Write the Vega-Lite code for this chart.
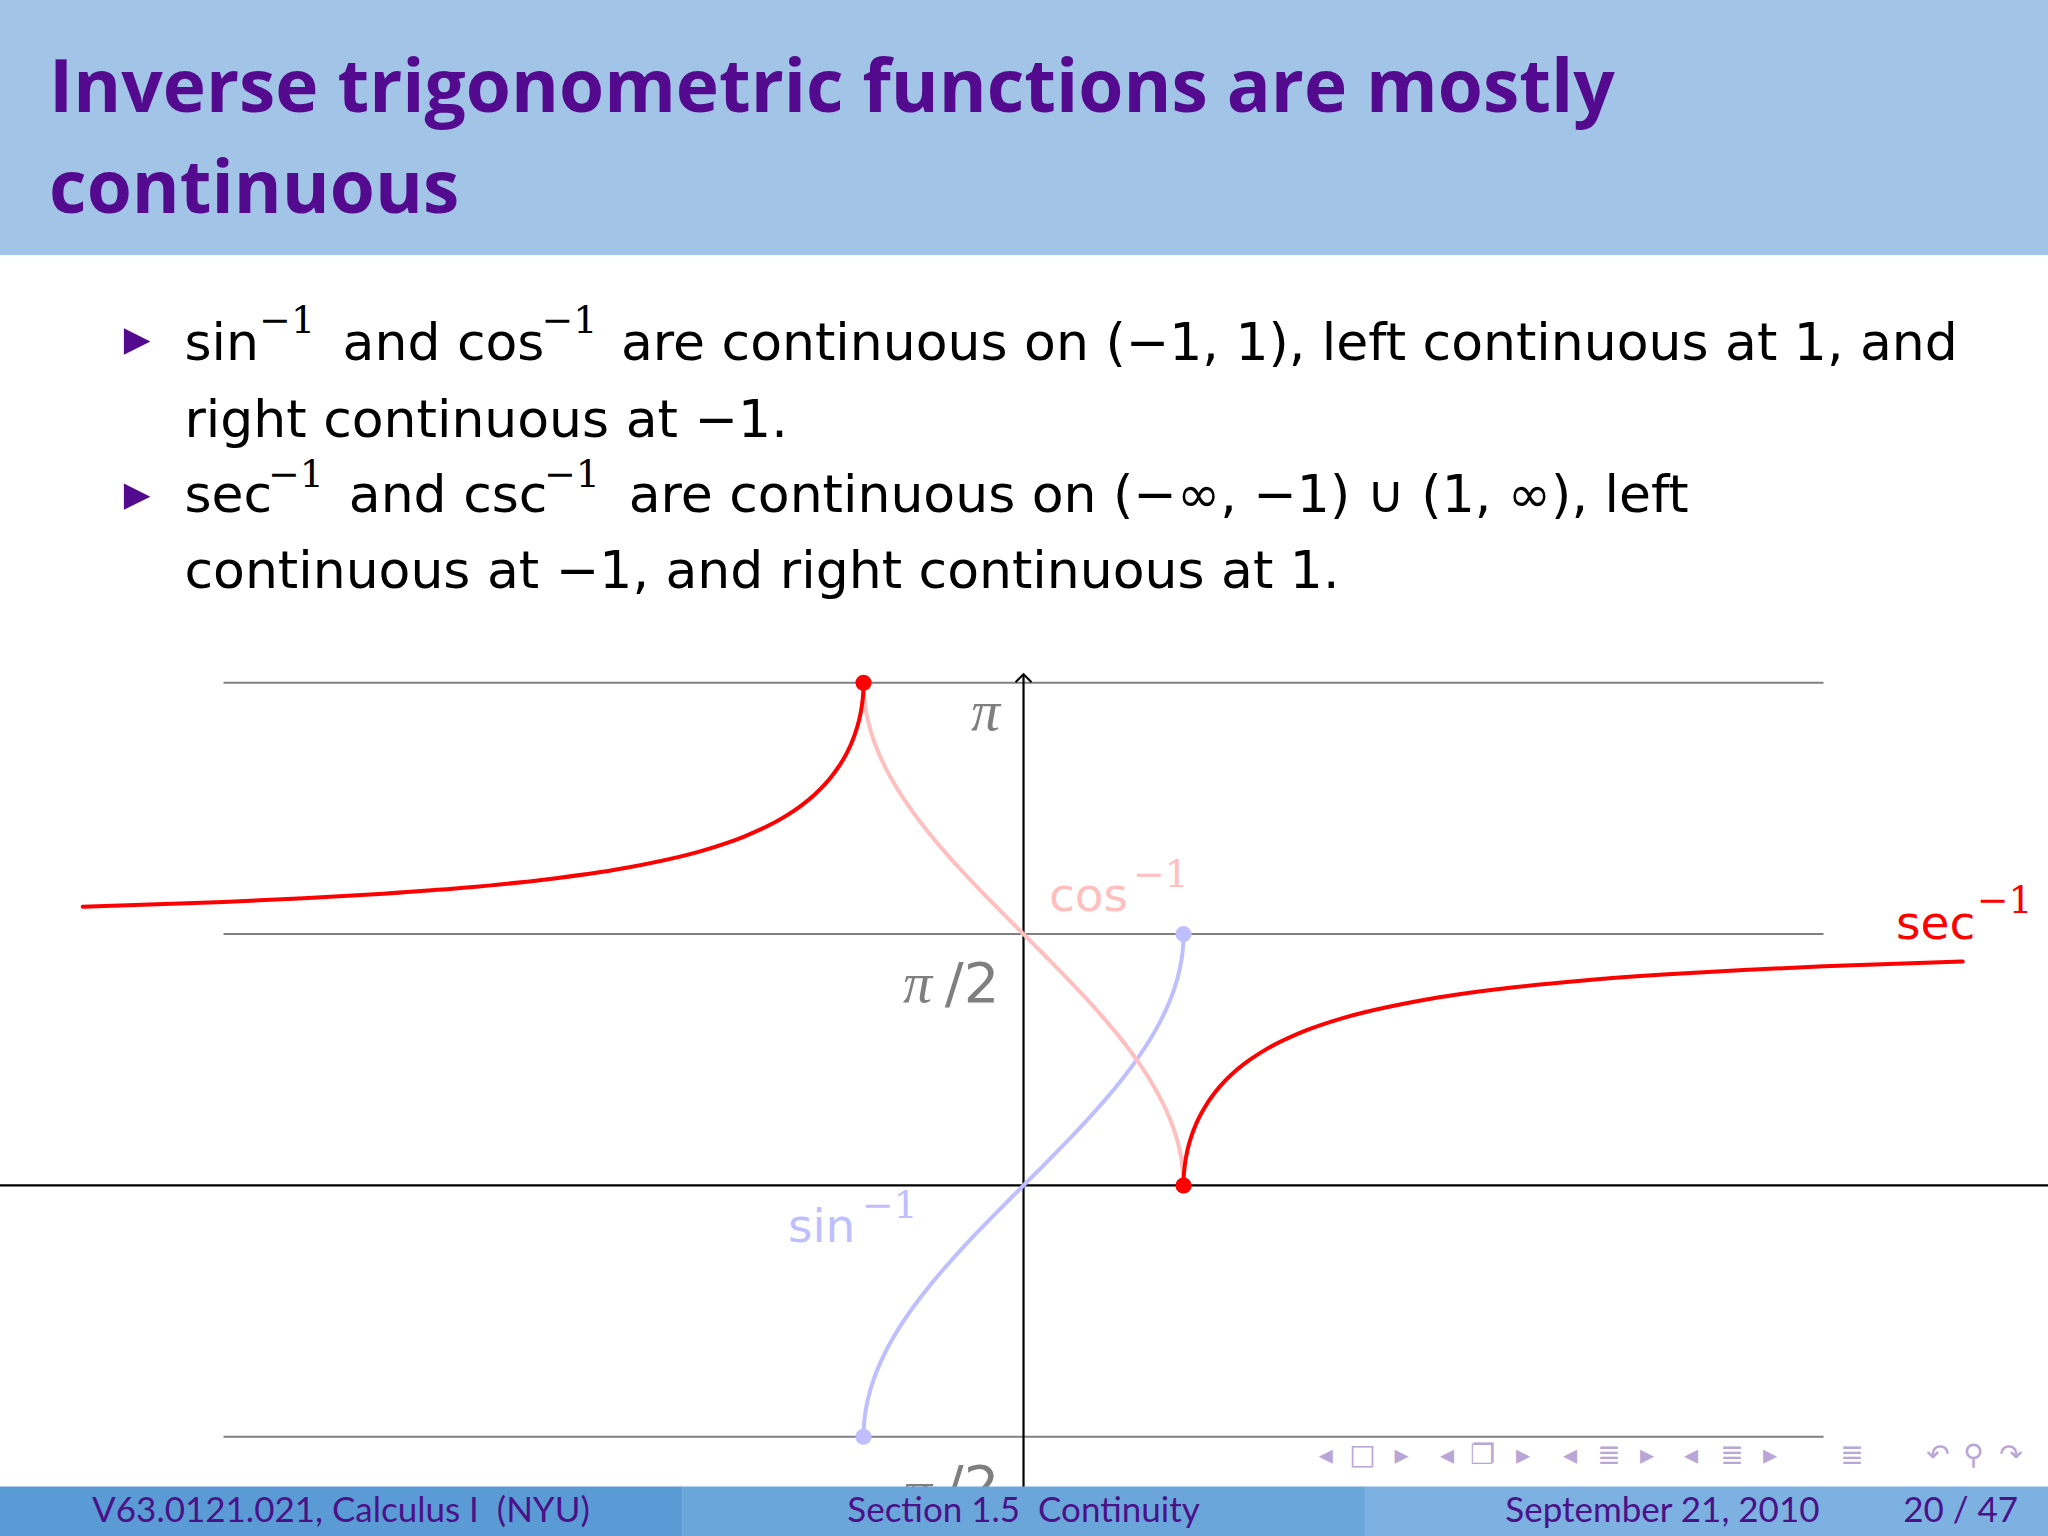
{
  "$schema": "https://vega.github.io/schema/vega-lite/v6.json",
  "width": 2048,
  "height": 1536,
  "autosize": {"type": "none"},
  "padding": 0,
  "background": "white",
  "config": {"view": {"stroke": null}},
  "datasets": {
    "header": [{"x": -6.397, "x2": 6.403, "y": 7.409, "y2": 5.816}],
    "title": [
      {"x": -6.09, "y": 6.709, "text": "Inverse trigonometric functions are mostly"},
      {"x": -6.09, "y": 6.078, "text": "continuous"}
    ],
    "bullets": [{"x": -5.54, "y": 5.274}, {"x": -5.54, "y": 4.305}],
    "body": [
      {"x": -5.244, "y": 5.159, "text": "sin"},
      {"x": -4.256, "y": 5.159, "text": "and cos"},
      {"x": -2.516, "y": 5.159, "text": "are continuous on (−1, 1), left continuous at 1, and"},
      {"x": -5.244, "y": 4.68, "text": "right continuous at −1."},
      {"x": -5.244, "y": 4.208, "text": "sec"},
      {"x": -4.217, "y": 4.208, "text": "and csc"},
      {"x": -2.468, "y": 4.208, "text": "are continuous on (−∞, −1) ∪ (1, ∞), left"},
      {"x": -5.244, "y": 3.733, "text": "continuous at −1, and right continuous at 1."}
    ],
    "bodysup": [
      {"x": -4.778, "y": 5.328, "text": "−1"},
      {"x": -3.013, "y": 5.328, "text": "−1"},
      {"x": -4.722, "y": 4.368, "text": "−1"},
      {"x": -2.997, "y": 4.368, "text": "−1"}
    ],
    "grid": [
      {"x": -5, "x2": 5, "y": 3.1416},
      {"x": -5, "x2": 5, "y": 1.5708},
      {"x": -5, "x2": 5, "y": -1.5708}
    ],
    "xaxis": [{"x": -6.397, "x2": 6.403, "y": 0}],
    "yaxis": [{"x": 0, "y": -2.191, "y2": 3.195}],
    "arrow": [{"x": 0, "y": 3.17}],
    "curves": [
      {"fn": "arcsin", "branch": "s", "x": -1, "y": -1.5708},
      {"fn": "arcsin", "branch": "s", "x": -0.998, "y": -1.5075},
      {"fn": "arcsin", "branch": "s", "x": -0.995, "y": -1.4708},
      {"fn": "arcsin", "branch": "s", "x": -0.99, "y": -1.4293},
      {"fn": "arcsin", "branch": "s", "x": -0.98, "y": -1.3705},
      {"fn": "arcsin", "branch": "s", "x": -0.96, "y": -1.287},
      {"fn": "arcsin", "branch": "s", "x": -0.94, "y": -1.2226},
      {"fn": "arcsin", "branch": "s", "x": -0.9, "y": -1.1198},
      {"fn": "arcsin", "branch": "s", "x": -0.85, "y": -1.016},
      {"fn": "arcsin", "branch": "s", "x": -0.8, "y": -0.9273},
      {"fn": "arcsin", "branch": "s", "x": -0.7, "y": -0.7754},
      {"fn": "arcsin", "branch": "s", "x": -0.6, "y": -0.6435},
      {"fn": "arcsin", "branch": "s", "x": -0.5, "y": -0.5236},
      {"fn": "arcsin", "branch": "s", "x": -0.4, "y": -0.4115},
      {"fn": "arcsin", "branch": "s", "x": -0.3, "y": -0.3047},
      {"fn": "arcsin", "branch": "s", "x": -0.2, "y": -0.2014},
      {"fn": "arcsin", "branch": "s", "x": -0.1, "y": -0.1002},
      {"fn": "arcsin", "branch": "s", "x": 0, "y": 0},
      {"fn": "arcsin", "branch": "s", "x": 0.1, "y": 0.1002},
      {"fn": "arcsin", "branch": "s", "x": 0.2, "y": 0.2014},
      {"fn": "arcsin", "branch": "s", "x": 0.3, "y": 0.3047},
      {"fn": "arcsin", "branch": "s", "x": 0.4, "y": 0.4115},
      {"fn": "arcsin", "branch": "s", "x": 0.5, "y": 0.5236},
      {"fn": "arcsin", "branch": "s", "x": 0.6, "y": 0.6435},
      {"fn": "arcsin", "branch": "s", "x": 0.7, "y": 0.7754},
      {"fn": "arcsin", "branch": "s", "x": 0.8, "y": 0.9273},
      {"fn": "arcsin", "branch": "s", "x": 0.85, "y": 1.016},
      {"fn": "arcsin", "branch": "s", "x": 0.9, "y": 1.1198},
      {"fn": "arcsin", "branch": "s", "x": 0.94, "y": 1.2226},
      {"fn": "arcsin", "branch": "s", "x": 0.96, "y": 1.287},
      {"fn": "arcsin", "branch": "s", "x": 0.98, "y": 1.3705},
      {"fn": "arcsin", "branch": "s", "x": 0.99, "y": 1.4293},
      {"fn": "arcsin", "branch": "s", "x": 0.995, "y": 1.4708},
      {"fn": "arcsin", "branch": "s", "x": 0.998, "y": 1.5075},
      {"fn": "arcsin", "branch": "s", "x": 1, "y": 1.5708},
      {"fn": "arccos", "branch": "c", "x": -1, "y": 3.1416},
      {"fn": "arccos", "branch": "c", "x": -0.998, "y": 3.0783},
      {"fn": "arccos", "branch": "c", "x": -0.995, "y": 3.0416},
      {"fn": "arccos", "branch": "c", "x": -0.99, "y": 3.0001},
      {"fn": "arccos", "branch": "c", "x": -0.98, "y": 2.9413},
      {"fn": "arccos", "branch": "c", "x": -0.96, "y": 2.8578},
      {"fn": "arccos", "branch": "c", "x": -0.94, "y": 2.7934},
      {"fn": "arccos", "branch": "c", "x": -0.9, "y": 2.6906},
      {"fn": "arccos", "branch": "c", "x": -0.85, "y": 2.5868},
      {"fn": "arccos", "branch": "c", "x": -0.8, "y": 2.4981},
      {"fn": "arccos", "branch": "c", "x": -0.7, "y": 2.3462},
      {"fn": "arccos", "branch": "c", "x": -0.6, "y": 2.2143},
      {"fn": "arccos", "branch": "c", "x": -0.5, "y": 2.0944},
      {"fn": "arccos", "branch": "c", "x": -0.4, "y": 1.9823},
      {"fn": "arccos", "branch": "c", "x": -0.3, "y": 1.8755},
      {"fn": "arccos", "branch": "c", "x": -0.2, "y": 1.7722},
      {"fn": "arccos", "branch": "c", "x": -0.1, "y": 1.671},
      {"fn": "arccos", "branch": "c", "x": 0, "y": 1.5708},
      {"fn": "arccos", "branch": "c", "x": 0.1, "y": 1.4706},
      {"fn": "arccos", "branch": "c", "x": 0.2, "y": 1.3694},
      {"fn": "arccos", "branch": "c", "x": 0.3, "y": 1.2661},
      {"fn": "arccos", "branch": "c", "x": 0.4, "y": 1.1593},
      {"fn": "arccos", "branch": "c", "x": 0.5, "y": 1.0472},
      {"fn": "arccos", "branch": "c", "x": 0.6, "y": 0.9273},
      {"fn": "arccos", "branch": "c", "x": 0.7, "y": 0.7954},
      {"fn": "arccos", "branch": "c", "x": 0.8, "y": 0.6435},
      {"fn": "arccos", "branch": "c", "x": 0.85, "y": 0.5548},
      {"fn": "arccos", "branch": "c", "x": 0.9, "y": 0.451},
      {"fn": "arccos", "branch": "c", "x": 0.94, "y": 0.3482},
      {"fn": "arccos", "branch": "c", "x": 0.96, "y": 0.2838},
      {"fn": "arccos", "branch": "c", "x": 0.98, "y": 0.2003},
      {"fn": "arccos", "branch": "c", "x": 0.99, "y": 0.1415},
      {"fn": "arccos", "branch": "c", "x": 0.995, "y": 0.1},
      {"fn": "arccos", "branch": "c", "x": 0.998, "y": 0.0633},
      {"fn": "arccos", "branch": "c", "x": 1, "y": 0},
      {"fn": "arcsec", "branch": "L", "x": -5.88, "y": 1.7417},
      {"fn": "arcsec", "branch": "L", "x": -5, "y": 1.7722},
      {"fn": "arcsec", "branch": "L", "x": -4.5, "y": 1.7949},
      {"fn": "arcsec", "branch": "L", "x": -4, "y": 1.8235},
      {"fn": "arcsec", "branch": "L", "x": -3.5, "y": 1.8605},
      {"fn": "arcsec", "branch": "L", "x": -3, "y": 1.9106},
      {"fn": "arcsec", "branch": "L", "x": -2.5, "y": 1.9823},
      {"fn": "arcsec", "branch": "L", "x": -2, "y": 2.0944},
      {"fn": "arcsec", "branch": "L", "x": -1.75, "y": 2.179},
      {"fn": "arcsec", "branch": "L", "x": -1.5, "y": 2.3005},
      {"fn": "arcsec", "branch": "L", "x": -1.4, "y": 2.3664},
      {"fn": "arcsec", "branch": "L", "x": -1.3, "y": 2.4484},
      {"fn": "arcsec", "branch": "L", "x": -1.2, "y": 2.5559},
      {"fn": "arcsec", "branch": "L", "x": -1.15, "y": 2.6251},
      {"fn": "arcsec", "branch": "L", "x": -1.1, "y": 2.7119},
      {"fn": "arcsec", "branch": "L", "x": -1.075, "y": 2.7658},
      {"fn": "arcsec", "branch": "L", "x": -1.05, "y": 2.8318},
      {"fn": "arcsec", "branch": "L", "x": -1.035, "y": 2.8808},
      {"fn": "arcsec", "branch": "L", "x": -1.02, "y": 2.9432},
      {"fn": "arcsec", "branch": "L", "x": -1.01, "y": 3.0008},
      {"fn": "arcsec", "branch": "L", "x": -1.005, "y": 3.0418},
      {"fn": "arcsec", "branch": "L", "x": -1.002, "y": 3.0784},
      {"fn": "arcsec", "branch": "L", "x": -1, "y": 3.1416},
      {"fn": "arcsec", "branch": "R", "x": 1, "y": 0},
      {"fn": "arcsec", "branch": "R", "x": 1.002, "y": 0.0632},
      {"fn": "arcsec", "branch": "R", "x": 1.005, "y": 0.0998},
      {"fn": "arcsec", "branch": "R", "x": 1.01, "y": 0.1408},
      {"fn": "arcsec", "branch": "R", "x": 1.02, "y": 0.1984},
      {"fn": "arcsec", "branch": "R", "x": 1.035, "y": 0.2608},
      {"fn": "arcsec", "branch": "R", "x": 1.05, "y": 0.3098},
      {"fn": "arcsec", "branch": "R", "x": 1.075, "y": 0.3758},
      {"fn": "arcsec", "branch": "R", "x": 1.1, "y": 0.4297},
      {"fn": "arcsec", "branch": "R", "x": 1.15, "y": 0.5165},
      {"fn": "arcsec", "branch": "R", "x": 1.2, "y": 0.5857},
      {"fn": "arcsec", "branch": "R", "x": 1.3, "y": 0.6932},
      {"fn": "arcsec", "branch": "R", "x": 1.4, "y": 0.7752},
      {"fn": "arcsec", "branch": "R", "x": 1.5, "y": 0.8411},
      {"fn": "arcsec", "branch": "R", "x": 1.75, "y": 0.9626},
      {"fn": "arcsec", "branch": "R", "x": 2, "y": 1.0472},
      {"fn": "arcsec", "branch": "R", "x": 2.5, "y": 1.1593},
      {"fn": "arcsec", "branch": "R", "x": 3, "y": 1.231},
      {"fn": "arcsec", "branch": "R", "x": 3.5, "y": 1.2811},
      {"fn": "arcsec", "branch": "R", "x": 4, "y": 1.3181},
      {"fn": "arcsec", "branch": "R", "x": 4.5, "y": 1.3467},
      {"fn": "arcsec", "branch": "R", "x": 5, "y": 1.3694},
      {"fn": "arcsec", "branch": "R", "x": 5.87, "y": 1.3996}
    ],
    "dots": [
      {"fn": "arcsec", "x": -1, "y": 3.1416},
      {"fn": "arcsec", "x": 1, "y": 0},
      {"fn": "arcsin", "x": 1, "y": 1.5708},
      {"fn": "arcsin", "x": -1, "y": -1.5708}
    ],
    "tickpi": [
      {"x": -0.147, "y": 2.845, "text": "π"},
      {"x": -0.572, "y": 1.149, "text": "π"},
      {"x": -0.572, "y": -2.03, "text": "−π"}
    ],
    "tickhalf": [
      {"x": -0.151, "y": 1.149, "text": "/2"},
      {"x": -0.151, "y": -1.995, "text": "/2"}
    ],
    "fnlabels": [
      {"fn": "arccos", "x": 0.159, "y": 1.717, "text": "cos"},
      {"fn": "arcsin", "x": -1.472, "y": -0.351, "text": "sin"},
      {"fn": "arcsec", "x": 5.453, "y": 1.54, "text": "sec"}
    ],
    "fnsup": [
      {"fn": "arccos", "x": 0.684, "y": 1.866, "text": "−1"},
      {"fn": "arcsin", "x": -1.011, "y": -0.203, "text": "−1"},
      {"fn": "arcsec", "x": 5.957, "y": 1.703, "text": "−1"}
    ],
    "footL": [{"x": -6.397, "x2": -2.134, "y": -1.881, "y2": -2.191}],
    "footM": [{"x": -2.134, "x2": 2.134, "y": -1.881, "y2": -2.191}],
    "footR": [{"x": 2.134, "x2": 6.403, "y": -1.881, "y2": -2.191}],
    "footcenter": [
      {"x": -4.266, "y": -2.101, "text": "V63.0121.021, Calculus I\u00a0\u00a0(NYU)"},
      {"x": 0, "y": -2.101, "text": "Section 1.5\u00a0\u00a0Continuity"}
    ],
    "footright": [
      {"x": 4.975, "y": -2.101, "text": "September 21, 2010"},
      {"x": 6.216, "y": -2.101, "text": "20 / 47"}
    ],
    "nav": [
      {"x": 1.889, "y": -1.691, "text": "◂"},
      {"x": 2.118, "y": -1.691, "text": "□"},
      {"x": 2.362, "y": -1.691, "text": "▸"},
      {"x": 2.647, "y": -1.691, "text": "◂"},
      {"x": 2.869, "y": -1.691, "text": "❐"},
      {"x": 3.122, "y": -1.691, "text": "▸"},
      {"x": 3.416, "y": -1.691, "text": "◂"},
      {"x": 3.659, "y": -1.691, "text": "≣"},
      {"x": 3.897, "y": -1.691, "text": "▸"},
      {"x": 4.172, "y": -1.691, "text": "◂"},
      {"x": 4.428, "y": -1.691, "text": "≣"},
      {"x": 4.666, "y": -1.691, "text": "▸"},
      {"x": 5.178, "y": -1.691, "text": "≣"},
      {"x": 5.716, "y": -1.691, "text": "↶"},
      {"x": 5.937, "y": -1.691, "text": "⚲"},
      {"x": 6.172, "y": -1.691, "text": "↷"}
    ]
  },
  "encoding": {
    "x": {"field": "x", "type": "quantitative", "scale": {"domain": [-6.397, 6.403], "nice": false, "zero": false}, "axis": null},
    "y": {"field": "y", "type": "quantitative", "scale": {"domain": [-2.191, 7.409], "nice": false, "zero": false}, "axis": null}
  },
  "layer": [
    {
      "data": {"name": "header"},
      "mark": {"type": "rect", "fill": "#a2c4e6"},
      "encoding": {"x2": {"field": "x2"}, "y2": {"field": "y2"}}
    },
    {
      "data": {"name": "title"},
      "mark": {"type": "text", "align": "left", "baseline": "alphabetic", "font": "Open Sans", "fontWeight": "bold", "fontSize": 73, "color": "#530a8e"},
      "encoding": {"text": {"field": "text"}}
    },
    {
      "data": {"name": "bullets"},
      "mark": {"type": "point", "shape": "M-1,-1L1,0L-1,1Z", "filled": true, "size": 700, "color": "#530a8e", "opacity": 1},
      "encoding": {}
    },
    {
      "data": {"name": "body"},
      "mark": {"type": "text", "align": "left", "baseline": "alphabetic", "font": "DejaVu Sans", "fontSize": 52, "color": "#000000"},
      "encoding": {"text": {"field": "text"}}
    },
    {
      "data": {"name": "bodysup"},
      "mark": {"type": "text", "align": "left", "baseline": "alphabetic", "font": "DejaVu Serif", "fontSize": 38, "color": "#000000"},
      "encoding": {"text": {"field": "text"}}
    },
    {
      "data": {"name": "grid"},
      "mark": {"type": "rule", "color": "#808080", "strokeWidth": 2},
      "encoding": {"x2": {"field": "x2"}}
    },
    {
      "data": {"name": "xaxis"},
      "mark": {"type": "rule", "color": "#000000", "strokeWidth": 2.2},
      "encoding": {"x2": {"field": "x2"}}
    },
    {
      "data": {"name": "yaxis"},
      "mark": {"type": "rule", "color": "#000000", "strokeWidth": 2.2},
      "encoding": {"y2": {"field": "y2"}}
    },
    {
      "data": {"name": "arrow"},
      "mark": {"type": "point", "shape": "M-1,0.5L0,-0.5L1,0.5", "filled": false, "size": 256, "stroke": "#000000", "strokeWidth": 2, "opacity": 1},
      "encoding": {}
    },
    {
      "data": {"name": "curves"},
      "mark": {"type": "line", "interpolate": "monotone", "strokeCap": "round"},
      "encoding": {
        "detail": {"field": "branch"},
        "color": {"field": "fn", "type": "nominal", "scale": {"domain": ["arcsin", "arccos", "arcsec"], "range": ["#bfbfff", "#ffbfbf", "#ff0000"]}, "legend": null},
        "strokeWidth": {"field": "fn", "type": "nominal", "scale": {"domain": ["arcsin", "arccos", "arcsec"], "range": [4, 4, 4.5]}, "legend": null}
      }
    },
    {
      "data": {"name": "dots"},
      "mark": {"type": "circle", "size": 260, "opacity": 1},
      "encoding": {
        "color": {"field": "fn", "type": "nominal", "legend": null}
      }
    },
    {
      "data": {"name": "tickpi"},
      "mark": {"type": "text", "align": "right", "baseline": "alphabetic", "font": "Liberation Serif", "fontStyle": "italic", "fontSize": 58, "color": "#7f7f7f"},
      "encoding": {"text": {"field": "text"}}
    },
    {
      "data": {"name": "tickhalf"},
      "mark": {"type": "text", "align": "right", "baseline": "alphabetic", "font": "DejaVu Sans", "fontSize": 56, "color": "#7f7f7f"},
      "encoding": {"text": {"field": "text"}}
    },
    {
      "data": {"name": "fnlabels"},
      "mark": {"type": "text", "align": "left", "baseline": "alphabetic", "font": "DejaVu Sans", "fontSize": 47},
      "encoding": {
        "text": {"field": "text"},
        "color": {"field": "fn", "type": "nominal", "legend": null}
      }
    },
    {
      "data": {"name": "fnsup"},
      "mark": {"type": "text", "align": "left", "baseline": "alphabetic", "font": "DejaVu Serif", "fontSize": 38},
      "encoding": {
        "text": {"field": "text"},
        "color": {"field": "fn", "type": "nominal", "legend": null}
      }
    },
    {
      "data": {"name": "footL"},
      "mark": {"type": "rect", "fill": "#5b9bd5"},
      "encoding": {"x2": {"field": "x2"}, "y2": {"field": "y2"}}
    },
    {
      "data": {"name": "footM"},
      "mark": {"type": "rect", "fill": "#6ba6db"},
      "encoding": {"x2": {"field": "x2"}, "y2": {"field": "y2"}}
    },
    {
      "data": {"name": "footR"},
      "mark": {"type": "rect", "fill": "#7cb1e1"},
      "encoding": {"x2": {"field": "x2"}, "y2": {"field": "y2"}}
    },
    {
      "data": {"name": "footcenter"},
      "mark": {"type": "text", "align": "center", "baseline": "alphabetic", "font": "Lato", "fontSize": 35, "color": "#4b1288"},
      "encoding": {"text": {"field": "text"}}
    },
    {
      "data": {"name": "footright"},
      "mark": {"type": "text", "align": "right", "baseline": "alphabetic", "font": "Lato", "fontSize": 35, "color": "#4b1288"},
      "encoding": {"text": {"field": "text"}}
    },
    {
      "data": {"name": "nav"},
      "mark": {"type": "text", "align": "center", "baseline": "middle", "font": "DejaVu Sans", "fontSize": 28, "color": "#b8a6d6"},
      "encoding": {"text": {"field": "text"}}
    }
  ]
}
